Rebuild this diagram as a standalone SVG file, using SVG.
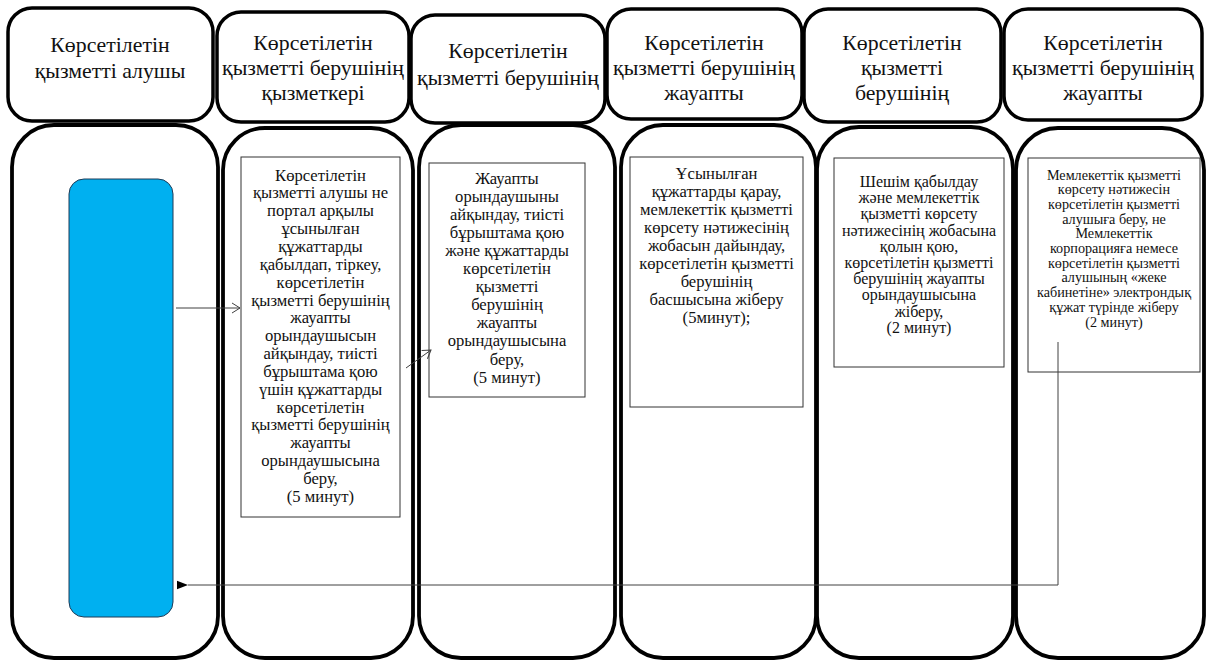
<svg xmlns="http://www.w3.org/2000/svg" width="1208" height="662" viewBox="0 0 1208 662">
<style>
.hdr{fill:#fff;stroke:#000;stroke-width:3.5}
.col{fill:#fff;stroke:#000;stroke-width:3.8}
.box{fill:#fff;stroke:#333;stroke-width:1}
text{font-family:"Liberation Serif","Times New Roman","DejaVu Serif",serif;fill:#111;text-anchor:middle}
.ht{font-size:21.8px}
.bt{font-size:16.6px}
.bt5{font-size:16px}
.bt6{font-size:14.2px}
.conn{fill:none;stroke:#404040;stroke-width:1}
</style>
<defs>
<marker id="open" markerUnits="userSpaceOnUse" markerWidth="12" markerHeight="12" refX="9" refY="6" orient="auto">
<path d="M1,1 L9,6 L1,11" fill="none" stroke="#404040" stroke-width="1"/>
</marker>
<marker id="solid" markerUnits="userSpaceOnUse" markerWidth="12" markerHeight="10" refX="0" refY="5" orient="auto-start-reverse">
<path d="M0,5 L11,0.8 L11,9.2 Z" fill="#000"/>
</marker>
</defs>

<g id="header-1"><rect class="hdr" x="8" y="8" width="205" height="113" rx="24"/>
<text class="ht" x="110" y="52">Көрсетілетін</text><text class="ht" x="110" y="78">қызметті алушы</text></g>
<g id="header-2"><rect class="hdr" x="217" y="12" width="192" height="110" rx="24"/>
<text class="ht" x="313" y="50">Көрсетілетін</text><text class="ht" x="313" y="75">қызметті берушінің</text><text class="ht" x="313" y="100">қызметкері</text></g>
<g id="header-3"><rect class="hdr" x="411" y="15" width="194" height="108" rx="24"/>
<text class="ht" x="508" y="58">Көрсетілетін</text><text class="ht" x="508" y="85">қызметті берушінің</text></g>
<g id="header-4"><rect class="hdr" x="607" y="9" width="195" height="110" rx="24"/>
<text class="ht" x="704" y="50">Көрсетілетін</text><text class="ht" x="704" y="75">қызметті берушінің</text><text class="ht" x="704" y="100">жауапты</text></g>
<g id="header-5"><rect class="hdr" x="804" y="9" width="197" height="113" rx="24"/>
<text class="ht" x="902" y="50">Көрсетілетін</text><text class="ht" x="902" y="75">қызметті</text><text class="ht" x="902" y="100">берушінің</text></g>
<g id="header-6"><rect class="hdr" x="1004" y="9" width="198" height="111" rx="24"/>
<text class="ht" x="1103" y="50">Көрсетілетін</text><text class="ht" x="1103" y="75">қызметті берушінің</text><text class="ht" x="1103" y="100">жауапты</text></g>

<g id="lane-1"><rect class="col" x="12" y="125" width="206" height="533" rx="42"/>
<rect x="69" y="179" width="104" height="438" rx="15" fill="#00B0F0" stroke="#1f3b57" stroke-width="1"/></g>
<g id="lane-2"><rect class="col" x="223" y="128" width="190" height="530" rx="42"/></g>
<g id="lane-3"><rect class="col" x="419" y="125" width="196" height="533" rx="42"/></g>
<g id="lane-4"><rect class="col" x="621" y="125" width="195" height="533" rx="42"/></g>
<g id="lane-5"><rect class="col" x="817" y="127" width="196" height="531" rx="42"/></g>
<g id="lane-6"><rect class="col" x="1016" y="128" width="188" height="530" rx="42"/></g>

<g id="step-1"><rect class="box" x="241" y="157" width="159" height="360"/>
<text class="bt" x="320.5" y="180.5">Көрсетілетін</text>
<text class="bt" x="320.5" y="198.4">қызметті алушы не</text>
<text class="bt" x="320.5" y="216.2">портал арқылы</text>
<text class="bt" x="320.5" y="234.1">ұсынылған</text>
<text class="bt" x="320.5" y="251.9">құжаттарды</text>
<text class="bt" x="320.5" y="269.8">қабылдап, тіркеу,</text>
<text class="bt" x="320.5" y="287.6">көрсетілетін</text>
<text class="bt" x="320.5" y="305.5">қызметті берушінің</text>
<text class="bt" x="320.5" y="323.3">жауапты</text>
<text class="bt" x="320.5" y="341.2">орындаушысын</text>
<text class="bt" x="320.5" y="359">айқындау, тиісті</text>
<text class="bt" x="320.5" y="376.9">бұрыштама қою</text>
<text class="bt" x="320.5" y="394.7">үшін құжаттарды</text>
<text class="bt" x="320.5" y="412.6">көрсетілетін</text>
<text class="bt" x="320.5" y="430.4">қызметті берушінің</text>
<text class="bt" x="320.5" y="448.3">жауапты</text>
<text class="bt" x="320.5" y="466.1">орындаушысына</text>
<text class="bt" x="320.5" y="484">беру,</text>
<text class="bt" x="320.5" y="501.8">(5 минут)</text></g>

<g id="step-2"><rect class="box" x="429" y="163" width="156" height="234"/>
<text class="bt" x="507" y="183.5">Жауапты</text>
<text class="bt" x="507" y="201.6">орындаушыны</text>
<text class="bt" x="507" y="219.7">айқындау, тиісті</text>
<text class="bt" x="507" y="237.8">бұрыштама қою</text>
<text class="bt" x="507" y="255.9">және құжаттарды</text>
<text class="bt" x="507" y="274">көрсетілетін</text>
<text class="bt" x="507" y="292.1">қызметті</text>
<text class="bt" x="507" y="310.2">берушінің</text>
<text class="bt" x="507" y="328.3">жауапты</text>
<text class="bt" x="507" y="346.4">орындаушысына</text>
<text class="bt" x="507" y="364.5">беру,</text>
<text class="bt" x="507" y="382.6">(5 минут)</text></g>

<g id="step-3"><rect class="box" x="630" y="157" width="173" height="250"/>
<text class="bt" x="716.5" y="178.5">Ұсынылған</text>
<text class="bt" x="716.5" y="196.5">құжаттарды қарау,</text>
<text class="bt" x="716.5" y="214.5">мемлекеттік қызметті</text>
<text class="bt" x="716.5" y="232.5">көрсету нәтижесінің</text>
<text class="bt" x="716.5" y="250.5">жобасын дайындау,</text>
<text class="bt" x="716.5" y="268.5">көрсетілетін қызметті</text>
<text class="bt" x="716.5" y="286.5">берушінің</text>
<text class="bt" x="716.5" y="304.5">басшысына жіберу</text>
<text class="bt" x="716.5" y="322.5">(5минут);</text></g>

<g id="step-4"><rect class="box" x="834" y="158" width="170" height="209"/>
<text class="bt5" x="919" y="187">Шешім қабылдау</text>
<text class="bt5" x="919" y="203.2">және мемлекеттік</text>
<text class="bt5" x="919" y="219.4">қызметті көрсету</text>
<text class="bt5" x="919" y="235.6">нәтижесінің жобасына</text>
<text class="bt5" x="919" y="251.8">қолын қою,</text>
<text class="bt5" x="919" y="268">көрсетілетін қызметті</text>
<text class="bt5" x="919" y="284.2">берушінің жауапты</text>
<text class="bt5" x="919" y="300.4">орындаушысына</text>
<text class="bt5" x="919" y="316.6">жіберу,</text>
<text class="bt5" x="919" y="332.8">(2 минут)</text></g>

<g id="step-5"><rect class="box" x="1028" y="158" width="172" height="214"/>
<text class="bt6" x="1114" y="179.5">Мемлекеттік қызметті</text>
<text class="bt6" x="1114" y="194.2">көрсету нәтижесін</text>
<text class="bt6" x="1114" y="208.9">көрсетілетін қызметті</text>
<text class="bt6" x="1114" y="223.6">алушыға беру, не</text>
<text class="bt6" x="1114" y="238.3">Мемлекеттік</text>
<text class="bt6" x="1114" y="253">корпорацияға немесе</text>
<text class="bt6" x="1114" y="267.7">көрсетілетін қызметті</text>
<text class="bt6" x="1114" y="282.4">алушының «жеке</text>
<text class="bt6" x="1114" y="297.1">кабинетіне» электрондық</text>
<text class="bt6" x="1114" y="311.8">құжат түрінде жіберу</text>
<text class="bt6" x="1114" y="326.5">(2 минут)</text></g>

<g id="connectors">
<path class="conn" d="M176,308 L240,308" marker-end="url(#open)"/>
<path class="conn" d="M406,368 L431,350" marker-end="url(#open)"/>
<path class="conn" d="M1058,342 L1058,585 L188,585" marker-end="url(#solid)"/>
</g>
</svg>
